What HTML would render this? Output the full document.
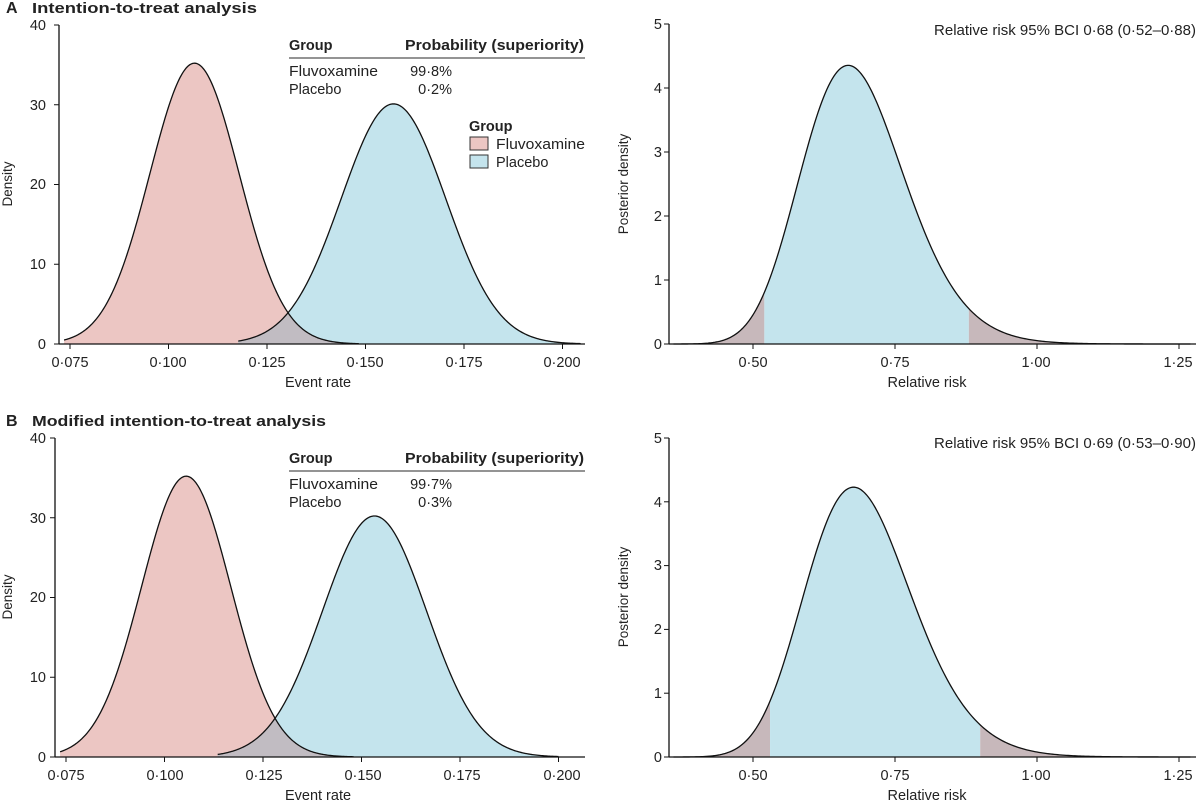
<!DOCTYPE html>
<html><head><meta charset="utf-8"><style>
body{margin:0;background:#fff}
svg{display:block;font-family:"Liberation Sans",sans-serif;}
text{fill:#222;font-size:14.5px}
.b{font-weight:bold}
.t{font-size:13.5px}
</style></head><body>
<svg id="s" width="1200" height="800" viewBox="0 0 1200 800">
<g id="plots"></g>
<text x="6" y="13" class="b" style="font-size:16px">A</text>
<text x="32" y="13" class="b" textLength="225" lengthAdjust="spacingAndGlyphs">Intention-to-treat analysis</text>
<text x="6" y="426" class="b" style="font-size:16px">B</text>
<text x="32" y="426" class="b" textLength="294" lengthAdjust="spacingAndGlyphs">Modified intention-to-treat analysis</text>
<text x="289" y="50" class="b">Group</text>
<text x="405" y="50" class="b" textLength="179" lengthAdjust="spacingAndGlyphs">Probability (superiority)</text>
<line x1="289" y1="58" x2="585" y2="58" stroke="#555" stroke-width="1.2"/>
<text x="289" y="76" textLength="89" lengthAdjust="spacingAndGlyphs">Fluvoxamine</text><text x="452" y="76" text-anchor="end">99·8%</text>
<text x="289" y="94">Placebo</text><text x="452" y="94" text-anchor="end">0·2%</text>
<text x="469" y="131" class="b">Group</text>
<rect x="470" y="137" width="18" height="13" fill="#ecc6c3" stroke="#333"/>
<text x="496" y="149" textLength="89" lengthAdjust="spacingAndGlyphs">Fluvoxamine</text>
<rect x="470" y="155" width="18" height="13" fill="#c4e4ed" stroke="#333"/>
<text x="496" y="167">Placebo</text>
<text x="289" y="463" class="b">Group</text>
<text x="405" y="463" class="b" textLength="179" lengthAdjust="spacingAndGlyphs">Probability (superiority)</text>
<line x1="289" y1="471" x2="585" y2="471" stroke="#555" stroke-width="1.2"/>
<text x="289" y="489" textLength="89" lengthAdjust="spacingAndGlyphs">Fluvoxamine</text><text x="452" y="489" text-anchor="end">99·7%</text>
<text x="289" y="507">Placebo</text><text x="452" y="507" text-anchor="end">0·3%</text>
<text x="1196" y="35" text-anchor="end" textLength="262" lengthAdjust="spacingAndGlyphs">Relative risk 95% BCI 0·68 (0·52–0·88)</text>
<text x="1196" y="448" text-anchor="end" textLength="262" lengthAdjust="spacingAndGlyphs">Relative risk 95% BCI 0·69 (0·53–0·90)</text>
<text x="318" y="387" text-anchor="middle">Event rate</text>
<text x="318" y="800" text-anchor="middle">Event rate</text>
<text x="927" y="387" text-anchor="middle">Relative risk</text>
<text x="927" y="800" text-anchor="middle">Relative risk</text>
<text transform="translate(12,184) rotate(-90)" text-anchor="middle" class="t">Density</text>
<text transform="translate(12,597) rotate(-90)" text-anchor="middle" class="t">Density</text>
<text transform="translate(628,184) rotate(-90)" text-anchor="middle" class="t">Posterior density</text>
<text transform="translate(628,597) rotate(-90)" text-anchor="middle" class="t">Posterior density</text>
<g text-anchor="end">
<text x="46" y="30">40</text><text x="46" y="110">30</text><text x="46" y="189">20</text><text x="46" y="269">10</text><text x="46" y="349">0</text>
<text x="46" y="443">40</text><text x="46" y="523">30</text><text x="46" y="602">20</text><text x="46" y="682">10</text><text x="46" y="762">0</text>
<text x="662" y="29">5</text><text x="662" y="93">4</text><text x="662" y="157">3</text><text x="662" y="221">2</text><text x="662" y="285">1</text><text x="662" y="349">0</text>
<text x="662" y="443">5</text><text x="662" y="507">4</text><text x="662" y="570">3</text><text x="662" y="634">2</text><text x="662" y="698">1</text><text x="662" y="762">0</text>
</g>
<g text-anchor="middle">
<text x="70" y="367">0·075</text><text x="168" y="367">0·100</text><text x="267" y="367">0·125</text><text x="365" y="367">0·150</text><text x="464" y="367">0·175</text><text x="562" y="367">0·200</text>
<text x="66" y="780">0·075</text><text x="165" y="780">0·100</text><text x="264" y="780">0·125</text><text x="363" y="780">0·150</text><text x="462" y="780">0·175</text><text x="562" y="780">0·200</text>
<text x="753" y="367">0·50</text><text x="895" y="367">0·75</text><text x="1036" y="367">1·00</text><text x="1178" y="367">1·25</text>
<text x="753" y="780">0·50</text><text x="895" y="780">0·75</text><text x="1036" y="780">1·00</text><text x="1178" y="780">1·25</text>
</g>
</svg>
<script>
var g=document.getElementById('plots'),NS='http://www.w3.org/2000/svg';
function el(t,a){var e=document.createElementNS(NS,t);for(var k in a)e.setAttribute(k,a[k]);g.appendChild(e);return e;}
function nd(x,m,s){return Math.exp(-0.5*((x-m)/s)**2)/(s*Math.sqrt(2*Math.PI));}
function ln(x,m,s){return Math.exp(-0.5*((Math.log(x)-m)/s)**2)/(x*s*Math.sqrt(2*Math.PI));}
function path(f,a,b,X,Y,close){var d='',n=300;for(var i=0;i<=n;i++){var x=a+(b-a)*i/n;d+=(i?'L':'M')+X(x).toFixed(2)+','+Y(f(x)).toFixed(2);}
 if(close)d+='L'+X(b).toFixed(2)+','+Y(0)+'L'+X(a).toFixed(2)+','+Y(0)+'Z';return d;}
function left(ax,y0,ytop,x075,m1,s1,a1,b1,m2,s2,a2,b2){
 var X=function(v){return x075+(v-0.075)*3940;},Y=function(v){return y0-(y0-ytop)*v/40;};
 var f1=function(x){return nd(x,m1,s1)},f2=function(x){return nd(x,m2,s2)};
 el('path',{d:path(f1,a1,b1,X,Y,1),fill:'#ecc6c3'});
 el('path',{d:path(f2,a2,b2,X,Y,1),fill:'#c4e4ed'});
 el('path',{d:path(function(x){return Math.min(f1(x),f2(x))},a2,b1,X,Y,1),fill:'#c1bcc2'});
 el('path',{d:path(f1,a1,b1,X,Y,0),fill:'none',stroke:'#111','stroke-width':1.3});
 el('path',{d:path(f2,a2,b2,X,Y,0),fill:'none',stroke:'#111','stroke-width':1.3});
 el('line',{x1:ax,y1:ytop,x2:ax,y2:y0,stroke:'#111','stroke-width':1.3});
 el('line',{x1:ax,y1:y0,x2:585,y2:y0,stroke:'#111','stroke-width':1.3});
 for(var i=0;i<=4;i++)el('line',{x1:ax-5,x2:ax,y1:Y(i*10),y2:Y(i*10),stroke:'#111'});
 for(var i=0;i<=5;i++){var xx=X(0.075+0.025*i);el('line',{x1:xx,x2:xx,y1:y0,y2:y0+5,stroke:'#111'});}
}
function right(y0,ytop,m,s,lo,hi){
 var X=function(v){return 753+(v-0.5)*568;},Y=function(v){return y0-(y0-ytop)*v/5;};
 var f=function(x){return ln(x,m,s)};
 el('path',{d:path(f,0.36,lo,X,Y,1),fill:'#c7b8bb'});
 el('path',{d:path(f,lo,hi,X,Y,1),fill:'#c4e4ed'});
 el('path',{d:path(f,hi,1.27,X,Y,1),fill:'#c7b8bb'});
 el('path',{d:path(f,0.36,1.27,X,Y,0),fill:'none',stroke:'#111','stroke-width':1.3});
 el('line',{x1:669,y1:ytop,x2:669,y2:y0,stroke:'#111','stroke-width':1.3});
 el('line',{x1:669,y1:y0,x2:1196,y2:y0,stroke:'#111','stroke-width':1.3});
 for(var i=0;i<=5;i++)el('line',{x1:664,x2:669,y1:Y(i),y2:Y(i),stroke:'#111'});
 for(var i=0;i<4;i++){var xx=X(0.5+0.25*i);el('line',{x1:xx,x2:xx,y1:y0,y2:y0+5,stroke:'#111'});}
}
left(59,344,25,70,0.1066,0.01133,0.0735,0.1483,0.1571,0.01325,0.1177,0.2046);
left(55,757,438,66,0.1055,0.01133,0.0735,0.1480,0.1533,0.0132,0.1135,0.2000);
right(344,24,Math.log(0.68),0.136,0.52,0.88);
right(757,438,Math.log(0.69),0.138,0.53,0.90);
</script>
</body></html>
